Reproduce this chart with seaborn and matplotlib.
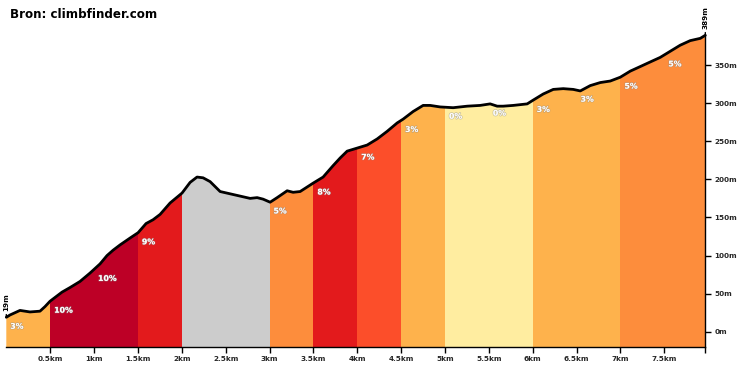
import numpy as np
import pandas as pd
import matplotlib
matplotlib.use("Agg")
import matplotlib.pyplot as plt
import matplotlib.patheffects as pe
import seaborn as sns

# ---- data ----
dist_km = [0.0, 0.042, 0.156, 0.270, 0.384, 0.441, 0.498, 0.555, 0.635, 0.726, 0.840,
           0.954, 1.068, 1.148, 1.217, 1.297, 1.411, 1.502, 1.593, 1.673, 1.753, 1.867,
           2.003, 2.095, 2.174, 2.243, 2.323, 2.437, 2.551, 2.665, 2.779, 2.859, 2.927,
           3.007, 3.087, 3.201, 3.269, 3.349, 3.497, 3.611, 3.725, 3.805, 3.885, 3.999,
           4.113, 4.227, 4.341, 4.455, 4.523, 4.637, 4.751, 4.831, 4.945, 5.093, 5.253,
           5.401, 5.515, 5.595, 5.663, 5.778, 5.937, 6.006, 6.120, 6.234, 6.348, 6.462,
           6.542, 6.656, 6.770, 6.884, 6.998, 7.112, 7.226, 7.339, 7.453, 7.567, 7.681,
           7.795, 7.910, 7.967]
elev_m = [19, 22, 28, 26, 27, 33, 40, 45, 52, 58, 66,
          77, 89, 100, 107, 114, 123, 130, 142, 147, 154, 169,
          182, 196, 203, 202, 197, 184, 181, 178, 175, 176, 174,
          170, 176, 185, 183, 184, 195, 203, 218, 228, 237, 241,
          245, 253, 263, 274, 279, 289, 297, 297, 295, 294, 296,
          297, 299, 296, 296, 297, 299, 304, 312, 318, 319, 318,
          316, 323, 327, 329, 334, 342, 348, 354, 360, 368, 376,
          382, 385, 389]

seg_start_km = [0.0, 0.5, 1.0, 1.5, 2.0, 2.5, 3.0, 3.5, 4.0, 4.5, 5.0, 5.5, 6.0, 6.5, 7.0, 7.5]
seg_grade = ["3%", "10%", "10%", "9%", "", "", "5%", "8%", "7%", "3%", "0%", "0%", "3%", "3%", "5%", "5%"]
seg_color = ["#feb24c", "#bd0026", "#bd0026", "#e31a1c", "#cccccc", "#cccccc", "#fd8d3c", "#e31a1c",
             "#fc4e2a", "#feb24c", "#ffeda0", "#ffeda0", "#feb24c", "#feb24c", "#fd8d3c", "#fd8d3c"]

xtick_vals = [0.5, 1, 1.5, 2, 2.5, 3, 3.5, 4, 4.5, 5, 5.5, 6, 6.5, 7, 7.5]
xtick_labels = ["0.5km", "1km", "1.5km", "2km", "2.5km", "3km", "3.5km", "4km", "4.5km",
                "5km", "5.5km", "6km", "6.5km", "7km", "7.5km"]
ytick_vals = [0, 50, 100, 150, 200, 250, 300, 350]
ytick_labels = ["0m", "50m", "100m", "150m", "200m", "250m", "300m", "350m"]
title = "Bron: climbfinder.com"

df = pd.DataFrame({"km": dist_km, "m": elev_m})
end_km = dist_km[-1]
ymin, ymax = -20, 389

sns.set_style("white")
plt.rcParams["font.family"] = ["DejaVu Sans"]

fig = plt.figure(figsize=(7.4, 3.7), dpi=100)
ax = fig.add_axes([6.3 / 740, 1 - 347 / 370, (705.3 - 6.3) / 740, 311.7 / 370])
ax.set_xlim(0, end_km)
ax.set_ylim(ymin, ymax)

# area under the profile used as clip path for the coloured bands
area = ax.fill_between(df["km"], ymin, df["m"], color="none", lw=0)
clip_path = area.get_paths()[0]
seg_end_km = seg_start_km[1:] + [end_km]
for s, e, c in zip(seg_start_km, seg_end_km, seg_color):
    band = ax.axvspan(s, e, color=c, lw=0, zorder=1)
    band.set_clip_path(clip_path, ax.transData)

sns.lineplot(data=df, x="km", y="m", ax=ax, color="black", lw=2.0, zorder=3,
             sort=False, estimator=None)
for ln in ax.lines:
    ln.set_clip_on(False)
    ln.set_solid_capstyle("round")
    ln.set_solid_joinstyle("round")

# grade labels
for s, g in zip(seg_start_km, seg_grade):
    if not g:
        continue
    y0 = np.interp(s, dist_km, elev_m)
    ax.annotate(g, xy=(s, y0), xytext=(4, -9), textcoords="offset pixels",
                ha="left", va="center", fontsize=5.6, fontweight="bold",
                color="white", zorder=4,
                path_effects=[pe.withStroke(linewidth=1.0, foreground=(0.55, 0.55, 0.55, 0.45))])

# start / end elevation labels
ax.annotate(f"{elev_m[0]}m", xy=(0, elev_m[0]), xytext=(0, 6), textcoords="offset pixels",
            rotation=90, ha="center", va="bottom", fontsize=5.2, fontweight="bold",
            color="black", annotation_clip=False,
            arrowprops=dict(arrowstyle="-", lw=1.0, color="black", shrinkA=0, shrinkB=0))
ax.annotate(f"{elev_m[-1]}m", xy=(end_km, elev_m[-1]), xytext=(0, 6), textcoords="offset pixels",
            rotation=90, ha="center", va="bottom", fontsize=5.2, fontweight="bold",
            color="black", annotation_clip=False,
            arrowprops=dict(arrowstyle="-", lw=1.0, color="black", shrinkA=0, shrinkB=0))

# axes styling
for sp in ["top", "left"]:
    ax.spines[sp].set_visible(False)
ax.spines["bottom"].set_color("black")
ax.spines["bottom"].set_linewidth(1.0)
ax.spines["right"].set_color("black")
ax.spines["right"].set_linewidth(1.0)
ax.spines["right"].set_zorder(5)

ax.set_xticks(xtick_vals + [end_km])
ax.set_xticklabels(xtick_labels + [""], fontsize=5.2, fontweight="bold")
ax.tick_params(axis="x", direction="out", length=4, width=1.0, color="black", pad=2.5, bottom=True)

ax.yaxis.tick_right()
ax.set_yticks(ytick_vals)
ax.set_yticklabels(ytick_labels, fontsize=5.2, fontweight="bold")
ax.tick_params(axis="y", direction="out", length=4, width=1.0, color="black", pad=2.5, right=True, left=False)
ax.yaxis.get_major_ticks()[0].tick2line.set_color("#bbbbbb")
ax.set_xlabel("")
ax.set_ylabel("")
ax.grid(False)

fig.text(10 / 740, 1 - 15 / 370, title, ha="left", va="center", fontsize=8.6,
         fontweight="bold", color="black")

fig.savefig("out.png", dpi=100, facecolor="white")
